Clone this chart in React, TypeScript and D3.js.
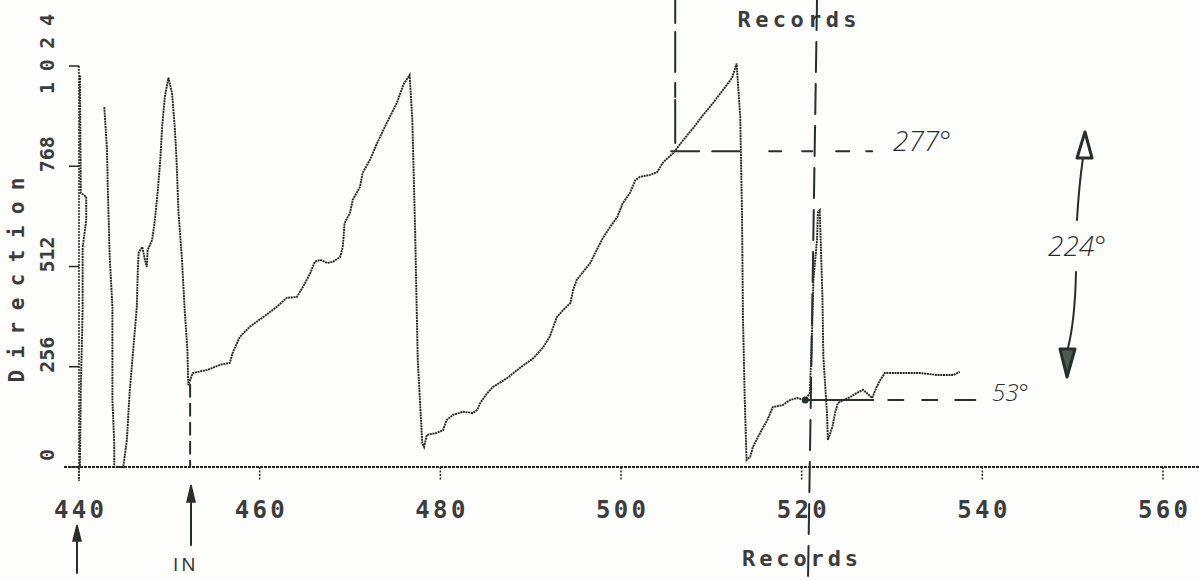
import React from "react";
import * as d3 from "d3";

// direction trace; NaN = pen lift
const records = [
  440.1, 440.2, 440.8, 440.8, 440.4, 440.4, 440.2, 440.1, NaN,
  442.8, 443.1, 443.2, 443.4, 443.7, 443.7, 443.9, 443.9, 444.9,
  445.3, 445.6, 446.0, 446.4, 446.5, 446.6, 447.0, 447.3, 447.5, 447.6,
  448.1, 448.4, 448.7, 449.0, 449.2, 449.5, 449.9, 450.3, 450.6, 450.8,
  451.0, 451.4, 451.7, 452.0, 452.1, 452.3,
  452.6, 454.2, 455.6, 456.7, 457.0, 457.8, 458.9, 460.4, 461.9, 463.0,
  464.1, 464.8, 465.6, 466.1, 466.7, 467.5, 468.1, 468.9, 469.2, 469.4,
  470.0, 470.3, 471.1, 471.4, 472.2, 473.0, 473.7, 474.4, 475.2, 475.9,
  476.6, 476.9, 477.2, 477.5, 477.8, 478.0, 478.2, 478.5, 479.6, 480.3,
  480.7, 481.4, 482.5, 483.6, 484.1, 484.4, 485.2, 485.8, 487.4, 488.8,
  490.3, 491.4, 492.1, 492.9, 493.6, 494.4, 494.7, 495.1, 495.8, 496.6,
  497.3, 498.0, 498.8, 499.6, 500.2, 501.0, 501.6, 502.1, 503.2, 504.0,
  504.7, 505.8, 506.9, 508.0, 509.1, 510.2, 511.3, 512.3, 512.8, 513.2,
  513.4, 513.5, 513.7, 513.9,
  514.3, 514.6, 515.4, 516.2, 516.8, 517.9, 518.7, 519.5, 520.4, 520.9,
  521.1, 521.3, 521.7, 521.8, 522.0, 522.3, 522.4, 522.8, 522.9, 523.4,
  523.7, 524.0, 524.6, 525.4, 526.1, 526.8, 527.2, 527.8, 528.3, 528.7,
  529.2, 530.1, 531.7, 533.1, 535.0, 536.8, 537.5,
];

const direction = [
  1000, 700, 690, 630, 560, 400, 200, 0, NaN,
  919, 810, 700, 536, 409, 171, 61, 0, 0,
  69, 189, 299, 409, 495, 547, 562, 529, 511, 554,
  580, 631, 700, 784, 868, 945, 994, 955, 868, 784,
  656, 529, 401, 299, 209, 222,
  240, 248, 261, 266, 291, 332, 358, 383, 409, 432,
  434, 460, 495, 524, 529, 521, 524, 536, 562, 623,
  649, 682, 715, 751, 784, 827, 861, 894, 930, 976,
  1001, 886, 613, 273, 146, 61, 51, 82, 87, 94,
  120, 133, 141, 138, 146, 163, 189, 204, 227, 253,
  278, 306, 332, 383, 401, 419, 452, 478, 498, 521,
  554, 585, 613, 639, 674, 700, 733, 741, 746, 753,
  779, 802, 835, 866, 899, 930, 963, 994, 1030, 894,
  639, 383, 171, 18,
  26, 51, 87, 120, 153, 158, 171, 176, 171, 189,
  306, 478, 580, 651, 656, 434, 281, 138, 69, 102,
  138, 163, 171, 179, 189, 197, 189, 176, 204, 222,
  240, 240, 240, 240, 235, 235, 243,
];

const xTicks = [440, 460, 480, 500, 520, 540, 560];
const yTicks = [0, 256, 512, 768, 1024];

// hand-drawn marks, in chart units
const inRecord = 452.3;
const startRecord = 506.0;
const markTop = 521.7;
const markBottom = 520.7;
const highLevel = 806;
const lowLevel = 171;

const W = 1199;
const H = 580;
const ink = "#262626";
const pen = "#26302b";
const dotFont = "'DejaVu Sans Mono', monospace";
const handFont = "'Open Sans', sans-serif";

export default function App() {
  const x = d3.scaleLinear().domain([440, 560]).range([79, 1163]);
  const y = d3.scaleLinear().domain([0, 1024]).range([467, 66]);

  const pts = records.map((r, i) => [r, direction[i]] as [number, number]);
  const line = d3
    .line<[number, number]>()
    .defined((d) => !isNaN(d[0]) && !isNaN(d[1]))
    .x((d) => x(d[0]))
    .y((d) => y(d[1]));

  const yHi = y(highLevel);
  const yLo = y(lowLevel);
  const xA = x(startRecord);
  const xIn = x(inRecord);

  return (
    <svg
      width={W}
      height={H}
      style={{ position: "absolute", left: 0, top: 0, background: "#fdfdfc" }}
    >
      {/* axes */}
      <line x1={64} x2={W} y1={y(0)} y2={y(0)} stroke={ink} strokeWidth={1.8} strokeDasharray="3 1" />
      <line x1={x(440)} x2={x(440)} y1={y(1024)} y2={y(0) + 14} stroke={ink} strokeWidth={1.5} strokeDasharray="2 1" />
      {xTicks.map((t) => (
        <g key={t}>
          <line x1={x(t)} x2={x(t)} y1={y(0)} y2={y(0) + 14} stroke={ink} strokeWidth={1.5} strokeDasharray="2 1.5" />
          <text
            x={x(t)}
            y={518}
            textAnchor="middle"
            fontFamily={dotFont}
            fontWeight="bold"
            fontSize={24}
            fill="#3c3c3c"
            textLength={50}
            lengthAdjust="spacing"
          >
            {t}
          </text>
        </g>
      ))}
      {yTicks.map((t) => (
        <g key={t}>
          <line x1={x(440) - 10} x2={x(440)} y1={y(t)} y2={y(t)} stroke={ink} strokeWidth={1.5} />
          <text
            transform={`translate(54,${y(t) - 12}) rotate(-90)`}
            textAnchor="middle"
            fontFamily={dotFont}
            fontWeight="bold"
            fontSize={20}
            fill="#3c3c3c"
            textLength={t >= 1000 ? 80 : 12 * String(t).length}
            lengthAdjust="spacing"
          >
            {t}
          </text>
        </g>
      ))}
      <text
        transform="translate(24,280) rotate(-90)"
        textAnchor="middle"
        fontFamily={dotFont}
        fontWeight="bold"
        fontSize={21}
        fill="#3c3c3c"
        textLength={205}
        lengthAdjust="spacing"
      >
        Direction
      </text>
      <text x={800} y={566} textAnchor="middle" fontFamily={dotFont} fontWeight="bold" fontSize={22} fill="#3c3c3c" textLength={116} lengthAdjust="spacing">
        Records
      </text>
      <text x={797} y={27} textAnchor="middle" fontFamily={dotFont} fontWeight="bold" fontSize={22} fill="#3c3c3c" textLength={119} lengthAdjust="spacing">
        Records
      </text>

      {/* trace */}
      <path d={line(pts) ?? ""} fill="none" stroke={ink} strokeWidth={1.9} strokeDasharray="2 0.7" />

      {/* hand annotations */}
      <g stroke={pen} fill="none" strokeLinecap="round">
        <line x1={xA} x2={xA} y1={0} y2={yHi} strokeWidth={2} strokeDasharray="23 9 40 11 14 3 43" />
        <line x1={xA - 4} x2={xA + 197} y1={yHi} y2={yHi} strokeWidth={2} strokeDasharray="28 13 27 30 12 21 10 24 13 17 6" />
        <line x1={x(markTop)} x2={x(markBottom)} y1={0} y2={H} strokeWidth={2} strokeDasharray="30 12" />
        <line x1={x(520.4)} x2={x(520.4) + 170} y1={yLo} y2={yLo} strokeWidth={2} strokeDasharray="68 15 15 19 15 18 20 100" />
        <line x1={xIn} x2={xIn} y1={y(210)} y2={y(0)} strokeWidth={2} strokeDasharray="12 7" />
        {/* 224 degree span arrows */}
        <path d="M1077,220 Q1079,185 1083,158" strokeWidth={2} />
        <path d="M1085,132 L1077,158 L1092,158 Z" strokeWidth={3} strokeLinejoin="round" />
        <path d="M1076,272 Q1075,320 1068,348" strokeWidth={2} />
        <path d="M1060,349 L1075,349 L1067,377 Z" strokeWidth={3} fill="#4d5a53" strokeLinejoin="round" />
        {/* arrows below axis */}
        <line x1={77} x2={77} y1={538} y2={573} strokeWidth={2} />
        <path d="M77,525 L73,541 L81,541 Z" fill={pen} strokeWidth={1.5} />
        <line x1={191} x2={191} y1={498} y2={545} strokeWidth={2} />
        <path d="M191,485 L187,502 L195,502 Z" fill={pen} strokeWidth={1.5} />
      </g>
      <circle cx={x(520.4)} cy={yLo} r={3.5} fill={pen} />
      <g fontFamily={handFont} fontStyle="italic" fontWeight={300} fill={pen}>
        <text x={893} y={151} fontSize={28}>277°</text>
        <text x={1048} y={256} fontSize={28}>224°</text>
        <text x={992} y={401} fontSize={24}>53°</text>
      </g>
      <text x={173} y={571} fontFamily={handFont} fontWeight={400} fontSize={19} letterSpacing={3} fill={pen}>
        IN
      </text>
    </svg>
  );
}
